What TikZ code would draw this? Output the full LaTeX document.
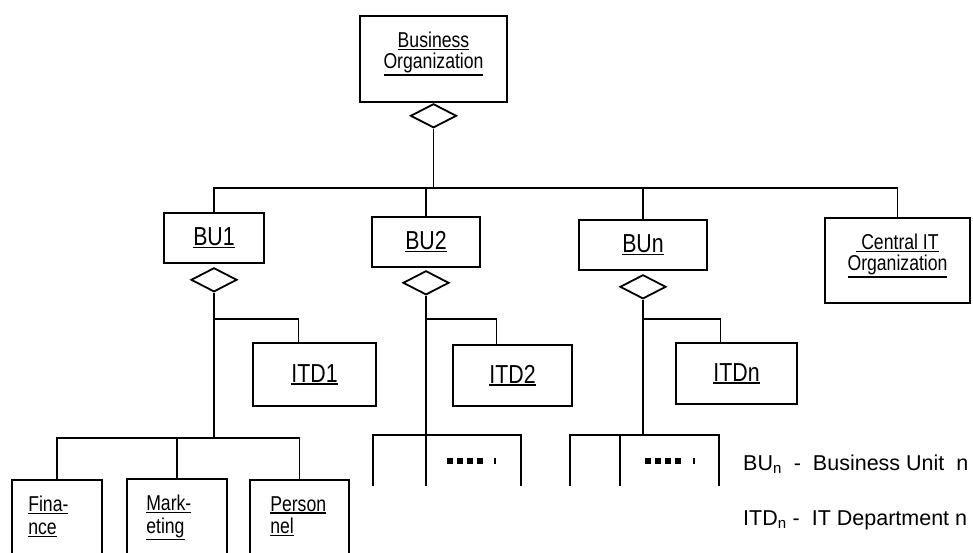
\documentclass[tikz,border=0pt]{standalone}
\usepackage{fontspec}
\setmainfont{Liberation Sans}[FakeStretch=0.82]
\newfontfamily\legendfont{Liberation Sans}
\usetikzlibrary{shapes.geometric, positioning}
\newcommand{\undl}[1]{\leavevmode\setbox0\hbox{#1}%
  \rlap{\rule[-\dimexpr\dp0+2.2pt\relax]{\wd0}{1.3pt}}\box0}
\tikzset{
  entity/.style={rectangle, draw=black, line width=1.8pt,
    inner sep=0pt, align=center, font=\fontsize{26}{28}\selectfont},
  itdbox/.style={entity, font=\fontsize{26}{28}\selectfont},
  agg/.style={diamond, draw=black, line width=1.8pt, inner sep=0pt,
    minimum width=46pt, minimum height=24pt},
  toptext/.style={anchor=north, yshift=-17pt, inner sep=0pt,
    align=center, font=\fontsize{21.5}{21}\selectfont},
  lefttext/.style={anchor=north west, yshift=-17pt, inner sep=0pt,
    align=left, font=\fontsize{21.5}{22.5}\selectfont},
  link/.style={line width=1.8pt},
  dots/.style={line width=6pt, dash pattern=on 6pt off 4pt},
  legend/.style={anchor=base west, inner sep=0pt,
    font=\legendfont\fontsize{21.5}{23}\selectfont},
}
\begin{document}
\begin{tikzpicture}[x=1pt, y=-1pt]
  \clip (0,0) rectangle (973,552);
  % top level
  \node[entity, minimum width=147pt, minimum height=86pt,
    label={[toptext]north:{\undl{Business}\\\undl{Organization}}}]
    (busorg) at (433.5,59) {};
  \node[agg, below=0pt of busorg] (agg0) {};

  \node[entity, minimum width=100pt, minimum height=50pt] (bu1) at (214,238) {\undl{BU1}};
  \node[entity, minimum width=108pt, minimum height=50pt] (bu2) at (426,242) {\undl{BU2}};
  \node[entity, minimum width=128pt, minimum height=50pt] (bun) at (643,245) {\undl{BUn}};
  \node[entity, minimum width=145pt, minimum height=85pt,
    label={[toptext]north:{\undl{\ Central IT}\\\undl{Organization}}}]
    (cit) at (897.5,260.5) {};

  \node[agg, below=3pt of bu1] (agg1) {};
  \node[agg, below=2pt of bu2] (agg2) {};
  \node[agg, below=3pt of bun] (agg3) {};

  \node[itdbox, minimum width=123pt, minimum height=63pt] (itd1) at (314.5,374.5) {\undl{ITD1}};
  \node[itdbox, minimum width=119pt, minimum height=61pt] (itd2) at (512.5,375.5) {\undl{ITD2}};
  \node[itdbox, minimum width=121pt, minimum height=61pt] (itdn) at (736.5,373.5) {\undl{ITDn}};

  % departments of BU1 (cut by the lower edge)
  \node[entity, minimum width=90pt, minimum height=100pt,
    label={[lefttext, xshift=17pt]north west:{\undl{Fina-}\\\undl{nce}}}]
    (fin) at (57,530) {};
  \node[entity, minimum width=100pt, minimum height=100pt,
    label={[lefttext, xshift=20pt]north west:{\undl{Mark-}\\\undl{eting}}}]
    (mkt) at (177,529) {};
  \node[entity, minimum width=99pt, minimum height=100pt,
    label={[lefttext, xshift=21pt]north west:{\undl{Person}\\\undl{nel}}}]
    (per) at (299.5,530) {};

  \coordinate (hub) at (433,188);
  \coordinate (fork) at (0,319);
  \coordinate (bus1) at (0,438);
  \coordinate (bus2) at (0,435);
  \coordinate (s2l) at (373,486);
  \coordinate (s2r) at (521,486);
  \coordinate (s3l) at (570,486);
  \coordinate (s3m) at (620,486);
  \coordinate (s3r) at (719,486);

  \draw[link] (agg0.south) -- (agg0.south |- hub);
  \draw[link] (bu1.north) -- (bu1.north |- hub) -- (cit.north |- hub) -- (cit.north);
  \draw[link] (bu2.north) -- (bu2.north |- hub);
  \draw[link] (bun.north) -- (bun.north |- hub);

  \draw[link] (agg1.south) -- (agg1.south |- bus1);
  \draw[link] (agg1.south |- fork) -| ([xshift=-16pt]itd1.north);
  \draw[link] (fin.north) |- (per.north |- bus1) -- (per.north);
  \draw[link] (mkt.north) -- (mkt.north |- bus1);

  \draw[link] (agg2.south) -- (agg2.south |- s2l);
  \draw[link] (agg2.south |- fork) -| ([xshift=-16pt]itd2.north);
  \draw[link] (s2l) -- (s2l |- bus2) -- (s2r |- bus2) -- (s2r);

  \draw[link] (agg3.south) -- (agg3.south |- bus2);
  \draw[link] (agg3.south |- fork) -| ([xshift=-16pt]itdn.north);
  \draw[link] (s3l) -- (s3l |- bus2) -- (s3r |- bus2) -- (s3r);
  \draw[link] (s3m) -- (s3m |- bus2);

  \coordinate (dots2) at (447,461);
  \coordinate (dots3) at (645,461);
  \draw[dots] (dots2) -- ++(36,0);
  \draw[line width=2pt] ([xshift=48pt]dots2) ++(0,-3) -- ++(0,6);
  \draw[dots] (dots3) -- ++(36,0);
  \draw[line width=2pt] ([xshift=49pt]dots3) ++(0,-3) -- ++(0,6);

  \node[legend] (legbu) at (743,470) {BU\textsubscript{n}\ \ -\ \ Business Unit\ \ n};
  \node[legend] (legitd) at (743,525) {ITD\textsubscript{n} -\ \ IT Department n};
\end{tikzpicture}
\end{document}
